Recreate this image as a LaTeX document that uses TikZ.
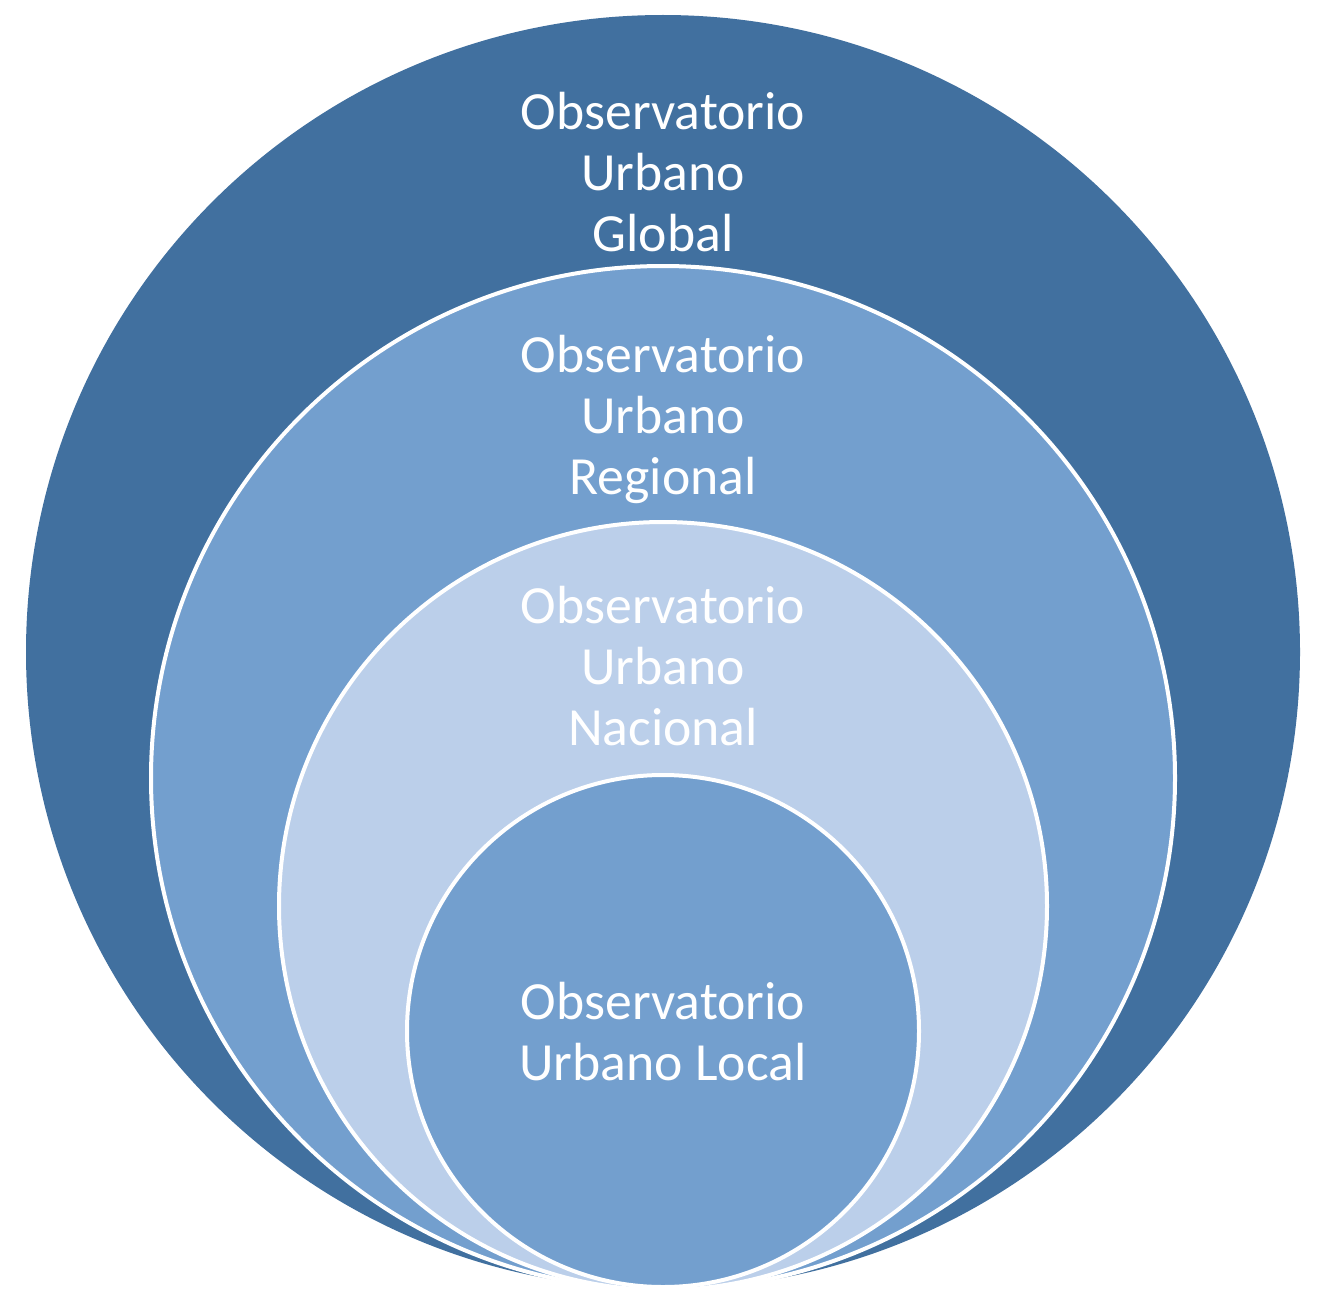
\documentclass[tikz,border=0pt]{standalone}
\usepackage{fontspec}
\setmainfont{Carlito}
\definecolor{cdark}{HTML}{41709F}
\definecolor{cmid}{HTML}{739FCE}
\definecolor{clight}{HTML}{BBCFEA}
\begin{document}
\begin{tikzpicture}[x=1pt,y=-1pt,
  ring/.style={draw=white, line width=4pt},
  lbl/.style={text=white, align=center, font=\fontsize{53.7}{61}\selectfont, inner sep=0pt}]
\useasboundingbox[fill=white] (0,0) rectangle (1336,1303);
\fill[cdark] (663,652) circle[radius=637];
\node[circle, minimum size=1274pt, inner sep=0pt] (global) at (663,652) {};
\filldraw[ring, fill=cmid] (663,778) circle[radius=512];
\node[circle, minimum size=1024pt, inner sep=0pt] (regional) at (663,778) {};
\filldraw[ring, fill=clight] (663,906) circle[radius=384];
\node[circle, minimum size=768pt, inner sep=0pt] (nacional) at (663,906) {};
\filldraw[ring, fill=cmid] (663,1031) circle[radius=256];
\node[circle, minimum size=512pt, inner sep=0pt] (local) at (663,1031) {};
\node[lbl] (tg) at (663,172) {Observatorio\\Urbano\\Global};
\node[lbl] (tr) at (663,419) {Observatorio\\Urbano\\Regional};
\node[lbl] (tn) at (663,666) {Observatorio\\Urbano\\Nacional};
\node[lbl] (tl) at (663,1032) {Observatorio\\Urbano Local};
\end{tikzpicture}
\end{document}
